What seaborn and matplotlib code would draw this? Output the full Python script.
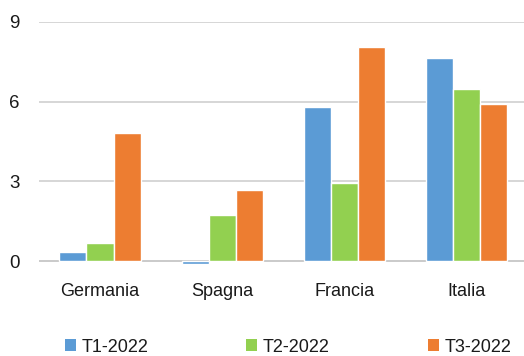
import matplotlib
matplotlib.use("Agg")
import matplotlib.pyplot as plt
import seaborn as sns
import pandas as pd
from matplotlib.patches import Patch

categories = ["Germania", "Spagna", "Francia", "Italia"]
series = ["T1-2022", "T2-2022", "T3-2022"]
t1 = [0.36, -0.09, 5.80, 7.64]
t2 = [0.68, 1.74, 2.93, 6.48]
t3 = [4.82, 2.69, 8.06, 5.91]
yticks = [0, 3, 6, 9]
colors = ["#5B9BD5", "#92D050", "#ED7D31"]

rows = []
for s, vals in zip(series, [t1, t2, t3]):
    for c, v in zip(categories, vals):
        rows.append({"Paese": c, "Serie": s, "Valore": v})
df = pd.DataFrame(rows)

sns.set_style("white")
plt.rcParams["font.family"] = ["Liberation Sans", "DejaVu Sans"]
fs = 13

W, H = 524, 356
fig = plt.figure(figsize=(W / 100, H / 100), dpi=100)
ppu = (261.3 - 21.7) / 9
ymin = -0.5
bottom_px = 261.3 - ymin * ppu
ax = fig.add_axes([38.9 / W, (H - bottom_px) / H, (527.6 - 38.9) / W, (bottom_px - 21.7) / H])

sns.barplot(data=df, x="Paese", y="Valore", hue="Serie", palette=colors,
            width=0.665, saturation=1, ax=ax, legend=False, errorbar=None)

ax.set_ylim(ymin, 9)
ax.set_xlim(-0.5, 3.5)
ax.set_yticks(yticks)
ax.set_yticklabels([str(t) for t in yticks])
ax.yaxis.grid(True, color="#D0D0D0", linewidth=1.2)
ax.set_axisbelow(True)
ax.axhline(0, color="#A6A6A6", linewidth=1.2, zorder=0.5)
for sp in ax.spines.values():
    sp.set_visible(False)
ax.tick_params(axis="y", length=0, pad=14, labelsize=fs + 0.5, labelcolor="#1a1a1a")
ax.tick_params(axis="x", length=0, pad=6, labelsize=fs, labelcolor="#1a1a1a")
ax.set_xlabel("")
ax.set_ylabel("")

handles = [Patch(facecolor=c, edgecolor="none") for c in colors]
fig.legend(handles, series, loc="center", bbox_to_anchor=(288 / W, 1 - 347 / H),
           ncol=3, frameon=False, fontsize=fs, handlelength=0.6, handleheight=0.6,
           handletextpad=0.3, columnspacing=5.45, labelcolor="#1a1a1a")

fig.savefig("out.png", dpi=100)
